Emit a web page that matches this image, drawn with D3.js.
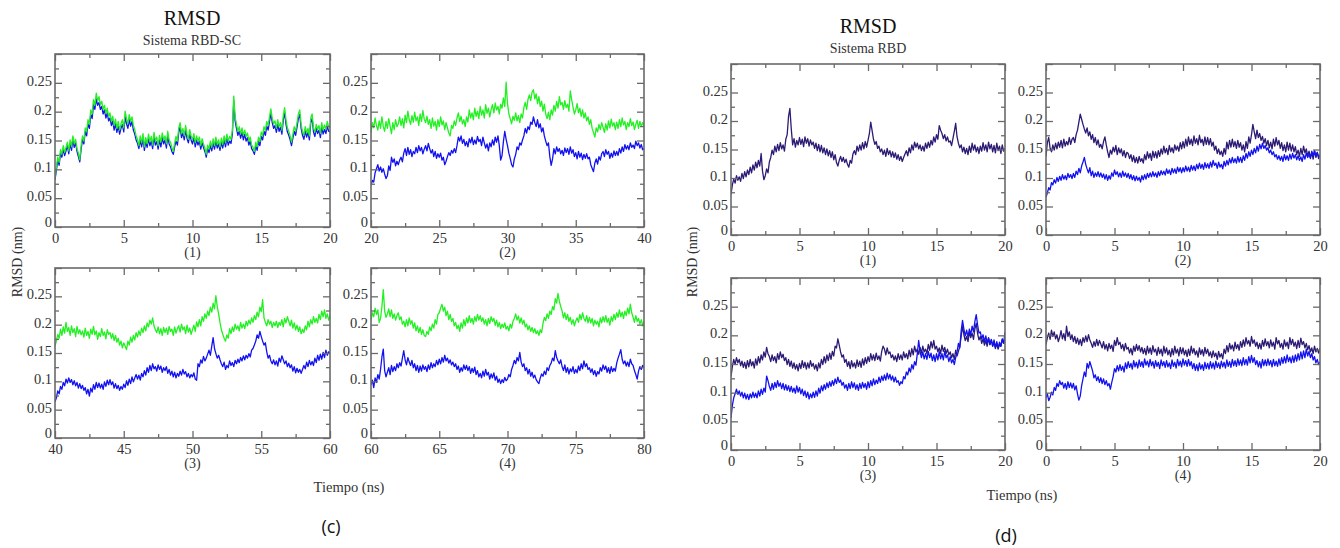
<!DOCTYPE html>
<html>
<head>
<meta charset="utf-8">
<script src="https://cdn.jsdelivr.net/npm/d3@7"></script>
<style>
  body { margin: 0; background: #fff; }
  text { font-family: 'Liberation Serif', 'Times New Roman', serif; fill: #333; }
</style>
</head>
<body>
<svg width="1340" height="548"></svg>
<script>
const svg = d3.select('svg')

// sampling step of every series (ns)
const timeStep = 0.1
const xMajor = [0, 5, 10, 15, 20]
const xMinor = [2.5, 7.5, 12.5, 17.5]
const yMajor = [0, 0.05, 0.1, 0.15, 0.2, 0.25, 0.3]
const yMinor = [0.025, 0.075, 0.125, 0.175, 0.225, 0.275]
const yLabels = ['0', '0.05', '0.1', '0.15', '0.2', '0.25', '']
const panelNames = ['(1)', '(2)', '(3)', '(4)']
const startsSC = [0, 20, 40, 60]
const startsRBD = [0, 0, 0, 0]

// RMSD (nm), Sistema RBD-SC
const scGreen1 = [
  .085,.104,.121,.112,.134,.126,.141,.129,.138,.147,.132,.151,.139,.158,.144,.152,.136,.128,.117,.141,
  .158,.149,.172,.165,.186,.178,.203,.196,.221,.211,.232,.219,.226,.212,.218,.204,.211,.197,.206,.191,
  .198,.183,.192,.176,.187,.171,.183,.168,.179,.186,.172,.201,.188,.179,.195,.183,.191,.176,.169,.158,
  .152,.141,.158,.146,.162,.139,.155,.144,.161,.148,.157,.142,.164,.149,.156,.141,.159,.147,.163,.151,
  .158,.144,.166,.151,.147,.138,.131,.146,.157,.149,.172,.181,.162,.171,.158,.176,.161,.152,.169,.158,
  .151,.162,.146,.158,.149,.156,.141,.153,.144,.137,.126,.142,.135,.149,.138,.153,.141,.156,.143,.151,
  .139,.154,.143,.158,.146,.161,.149,.157,.152,.168,.227,.191,.178,.166,.174,.161,.172,.159,.168,.157,
  .163,.149,.156,.142,.138,.131,.147,.139,.156,.148,.165,.158,.174,.167,.183,.176,.191,.205,.188,.179,
  .184,.171,.186,.174,.181,.168,.193,.207,.186,.172,.166,.158,.147,.161,.174,.166,.181,.196,.203,.178,
  .166,.159,.174,.163,.171,.158,.189,.196,.172,.164,.178,.169,.176,.162,.181,.168,.177,.169,.183,.174,
  .172]
const scBlue1 = [
  .082,.098,.116,.107,.128,.121,.135,.124,.132,.141,.127,.145,.133,.151,.138,.146,.131,.122,.113,.135,
  .152,.144,.166,.158,.179,.171,.195,.188,.212,.204,.222,.211,.216,.204,.209,.196,.203,.189,.198,.184,
  .189,.176,.184,.168,.179,.164,.175,.161,.171,.178,.165,.192,.179,.171,.186,.175,.183,.168,.161,.151,
  .145,.136,.151,.139,.154,.133,.148,.138,.153,.141,.149,.136,.156,.142,.148,.135,.151,.139,.155,.144,
  .151,.137,.158,.144,.139,.131,.126,.139,.149,.142,.164,.173,.155,.163,.151,.168,.154,.146,.161,.151,
  .144,.155,.139,.151,.142,.149,.135,.146,.138,.131,.121,.136,.129,.142,.132,.146,.135,.149,.137,.144,
  .133,.147,.137,.151,.139,.154,.142,.149,.145,.161,.219,.184,.171,.159,.166,.154,.164,.151,.161,.149,
  .155,.142,.149,.136,.132,.126,.141,.133,.149,.141,.157,.151,.166,.159,.175,.168,.183,.197,.181,.171,
  .176,.164,.178,.166,.173,.161,.185,.199,.178,.165,.159,.151,.141,.154,.166,.159,.173,.188,.195,.171,
  .159,.152,.167,.156,.164,.151,.181,.188,.165,.157,.171,.162,.168,.155,.173,.161,.169,.162,.175,.166,
  .165]
const scGreen2 = [
  .163,.181,.172,.189,.176,.168,.184,.171,.191,.174,.166,.183,.171,.188,.175,.162,.181,.169,.186,.174,
  .179,.191,.176,.188,.172,.194,.181,.201,.186,.178,.193,.182,.199,.184,.191,.176,.196,.183,.202,.187,
  .181,.192,.178,.186,.171,.189,.175,.183,.168,.186,.174,.191,.177,.184,.169,.181,.172,.163,.158,.176,
  .171,.184,.176,.189,.198,.183,.192,.179,.186,.174,.191,.182,.203,.189,.198,.186,.206,.192,.201,.188,
  .209,.194,.203,.189,.212,.197,.206,.191,.204,.212,.198,.215,.203,.209,.196,.213,.206,.224,.209,.251,
  .214,.196,.188,.179,.192,.185,.198,.184,.193,.181,.196,.189,.207,.216,.204,.221,.229,.219,.234,.238,
  .222,.231,.214,.226,.209,.218,.201,.213,.196,.188,.199,.186,.203,.194,.211,.201,.218,.206,.226,.212,
  .216,.204,.219,.207,.213,.201,.236,.221,.208,.196,.203,.214,.198,.206,.192,.203,.189,.198,.184,.191,
  .178,.186,.171,.164,.156,.172,.165,.178,.169,.181,.173,.164,.179,.168,.184,.172,.187,.175,.181,.169,
  .182,.171,.186,.174,.189,.177,.183,.169,.181,.174,.188,.176,.182,.169,.178,.185,.171,.183,.174,.181,
  .176]
const scBlue2 = [
  .072,.081,.078,.094,.101,.108,.097,.104,.095,.101,.092,.084,.089,.106,.098,.121,.112,.118,.106,.114,
  .108,.116,.121,.113,.128,.136,.124,.138,.126,.134,.122,.131,.127,.138,.129,.141,.132,.138,.127,.135,
  .141,.132,.145,.136,.128,.134,.122,.131,.119,.127,.121,.128,.116,.121,.108,.114,.122,.129,.124,.133,
  .128,.136,.129,.141,.156,.149,.158,.145,.152,.141,.148,.139,.153,.146,.156,.143,.151,.144,.157,.148,
  .152,.141,.156,.146,.137,.144,.132,.146,.139,.151,.142,.156,.147,.158,.141,.116,.124,.148,.166,.152,
  .141,.128,.119,.108,.104,.118,.126,.139,.134,.146,.142,.151,.158,.171,.163,.174,.169,.182,.178,.191,
  .181,.174,.186,.172,.179,.165,.172,.158,.149,.141,.146,.122,.107,.118,.136,.127,.139,.131,.136,.127,
  .133,.124,.137,.129,.136,.126,.139,.128,.134,.122,.129,.118,.131,.121,.128,.117,.126,.119,.127,.118,
  .121,.108,.102,.096,.111,.118,.109,.122,.116,.127,.131,.122,.134,.126,.131,.119,.128,.121,.132,.124,
  .131,.124,.136,.128,.139,.131,.143,.135,.141,.134,.146,.138,.142,.136,.149,.141,.146,.137,.143,.134,
  .136]
const scGreen3 = [
  .162,.171,.183,.176,.192,.181,.196,.185,.204,.188,.195,.181,.198,.186,.193,.179,.197,.184,.191,.182,
  .189,.178,.194,.181,.188,.176,.192,.183,.197,.182,.189,.174,.186,.179,.193,.181,.187,.175,.191,.183,
  .186,.176,.184,.172,.181,.169,.176,.164,.171,.159,.168,.162,.156,.171,.164,.178,.169,.181,.173,.186,
  .178,.189,.181,.194,.186,.198,.189,.203,.196,.208,.201,.212,.198,.191,.186,.196,.184,.193,.181,.195,
  .186,.194,.183,.197,.188,.192,.181,.196,.185,.193,.198,.187,.201,.191,.196,.184,.199,.187,.194,.183,
  .191,.199,.188,.205,.196,.209,.198,.214,.206,.219,.211,.224,.216,.231,.222,.238,.228,.251,.232,.219,
  .204,.191,.183,.176,.171,.182,.176,.193,.184,.196,.188,.201,.192,.198,.189,.204,.194,.201,.193,.206,
  .198,.208,.201,.212,.204,.216,.209,.222,.214,.231,.223,.244,.212,.204,.198,.209,.201,.206,.195,.204,
  .198,.206,.195,.204,.199,.209,.196,.211,.203,.214,.206,.198,.208,.194,.203,.191,.199,.188,.196,.184,
  .192,.186,.198,.191,.206,.196,.209,.201,.214,.204,.211,.203,.218,.209,.224,.214,.226,.211,.219,.208,
  .216]
const scBlue3 = [
  .064,.071,.083,.078,.091,.086,.098,.092,.104,.097,.106,.098,.103,.094,.101,.092,.098,.088,.096,.087,
  .093,.084,.089,.078,.086,.074,.088,.081,.094,.086,.098,.089,.097,.088,.095,.086,.099,.091,.102,.094,
  .103,.094,.099,.088,.096,.087,.093,.084,.091,.086,.095,.089,.101,.093,.104,.096,.108,.099,.106,.112,
  .104,.111,.102,.114,.108,.119,.111,.124,.116,.128,.119,.131,.122,.126,.118,.129,.121,.127,.116,.124,
  .119,.126,.114,.121,.111,.118,.108,.116,.106,.114,.109,.118,.111,.121,.113,.117,.108,.114,.106,.112,
  .108,.115,.104,.102,.131,.126,.138,.132,.144,.136,.141,.148,.155,.146,.162,.177,.158,.149,.141,.146,
  .138,.131,.126,.134,.121,.128,.124,.136,.128,.133,.126,.137,.131,.139,.133,.142,.136,.145,.138,.146,
  .141,.149,.143,.155,.158,.164,.171,.182,.176,.188,.179,.171,.164,.168,.152,.141,.146,.136,.131,.138,
  .129,.136,.127,.141,.134,.145,.138,.131,.136,.126,.132,.124,.129,.118,.126,.115,.123,.116,.121,.114,
  .121,.128,.122,.134,.126,.137,.129,.135,.128,.141,.133,.146,.137,.148,.139,.151,.142,.155,.146,.152,
  .151]
const scGreen4 = [
  .208,.221,.214,.229,.218,.226,.204,.211,.232,.262,.224,.213,.219,.228,.214,.226,.211,.219,.208,.216,
  .221,.209,.214,.201,.206,.196,.209,.198,.212,.201,.207,.194,.203,.189,.198,.186,.195,.183,.191,.181,
  .179,.188,.183,.196,.189,.201,.194,.209,.201,.218,.221,.229,.236,.224,.231,.216,.224,.209,.218,.206,
  .211,.198,.204,.193,.199,.188,.203,.194,.209,.198,.212,.203,.216,.204,.211,.201,.214,.206,.218,.208,
  .216,.206,.212,.201,.209,.198,.211,.202,.214,.206,.211,.199,.208,.196,.204,.193,.201,.195,.203,.192,
  .197,.189,.201,.194,.206,.211,.219,.208,.215,.203,.212,.201,.208,.196,.201,.191,.198,.188,.195,.186,
  .193,.184,.189,.181,.191,.186,.202,.213,.207,.219,.211,.224,.218,.232,.226,.246,.238,.255,.241,.232,
  .224,.212,.221,.209,.218,.206,.213,.201,.209,.198,.206,.212,.204,.218,.209,.221,.211,.206,.216,.203,
  .213,.203,.211,.198,.208,.201,.206,.196,.212,.203,.214,.205,.216,.204,.211,.199,.214,.206,.218,.209,
  .221,.213,.226,.214,.222,.211,.224,.216,.229,.219,.236,.221,.213,.204,.216,.206,.211,.201,.209,.198,
  .206]
const scBlue4 = [
  .094,.102,.089,.106,.098,.112,.104,.121,.143,.157,.119,.108,.116,.124,.112,.128,.117,.126,.119,.131,
  .124,.133,.127,.141,.154,.138,.129,.142,.134,.128,.137,.124,.131,.119,.128,.116,.127,.118,.129,.121,
  .126,.117,.129,.121,.133,.124,.131,.126,.137,.129,.139,.131,.142,.134,.146,.136,.141,.132,.138,.129,
  .134,.126,.131,.121,.127,.116,.124,.118,.129,.121,.128,.119,.126,.114,.123,.116,.125,.112,.119,.108,
  .114,.106,.118,.109,.121,.111,.116,.104,.113,.106,.115,.102,.109,.098,.104,.096,.103,.098,.107,.101,
  .104,.112,.108,.121,.128,.137,.131,.142,.136,.151,.134,.126,.131,.119,.124,.113,.121,.109,.116,.106,
  .111,.103,.099,.096,.106,.113,.109,.118,.112,.124,.119,.128,.132,.141,.136,.154,.142,.136,.131,.138,
  .126,.119,.129,.116,.124,.113,.122,.117,.126,.114,.121,.115,.127,.119,.131,.122,.136,.126,.131,.121,
  .124,.116,.122,.112,.119,.109,.117,.113,.124,.118,.129,.121,.127,.116,.124,.114,.126,.117,.123,.118,
  .132,.141,.148,.156,.139,.131,.136,.127,.134,.126,.139,.131,.128,.119,.112,.104,.118,.126,.121,.128,
  .124]

// RMSD (nm), Sistema RBD
const rbdIndigo1 = [
  .071,.088,.098,.091,.104,.096,.102,.094,.108,.099,.111,.102,.114,.106,.119,.109,.123,.114,.128,.118,
  .131,.121,.143,.112,.097,.104,.116,.109,.128,.136,.149,.141,.156,.146,.159,.148,.162,.151,.158,.147,
  .168,.176,.208,.222,.186,.158,.169,.154,.166,.158,.171,.159,.168,.155,.172,.161,.169,.156,.167,.158,
  .163,.152,.161,.148,.159,.146,.157,.144,.153,.141,.151,.139,.148,.136,.146,.132,.141,.127,.121,.131,
  .138,.129,.136,.127,.133,.124,.119,.131,.126,.142,.148,.141,.156,.147,.158,.149,.162,.151,.164,.154,
  .166,.178,.198,.183,.168,.159,.164,.152,.156,.146,.151,.141,.149,.138,.152,.141,.148,.137,.146,.136,
  .144,.133,.141,.131,.138,.129,.136,.142,.148,.139,.153,.144,.158,.149,.163,.154,.161,.151,.158,.148,
  .156,.147,.161,.152,.163,.154,.166,.158,.172,.163,.176,.168,.192,.184,.178,.169,.176,.165,.172,.163,
  .165,.157,.169,.182,.196,.172,.161,.153,.158,.146,.154,.143,.152,.141,.156,.145,.161,.149,.158,.146,
  .154,.143,.156,.147,.162,.149,.158,.146,.163,.151,.159,.146,.157,.144,.161,.148,.156,.143,.158,.147,
  .152]
const rbdIndigo2 = [
  .138,.162,.171,.152,.146,.158,.149,.161,.151,.163,.154,.166,.153,.168,.156,.164,.158,.171,.159,.168,
  .171,.162,.176,.184,.198,.212,.203,.194,.186,.179,.188,.174,.181,.168,.176,.162,.171,.158,.167,.154,
  .159,.151,.164,.172,.158,.146,.136,.149,.142,.154,.146,.157,.141,.153,.144,.151,.139,.148,.136,.145,
  .143,.134,.141,.129,.139,.127,.136,.126,.138,.129,.134,.126,.141,.132,.146,.135,.143,.131,.147,.136,
  .146,.135,.148,.138,.151,.142,.156,.144,.152,.141,.157,.146,.153,.144,.158,.149,.156,.147,.162,.151,
  .164,.153,.168,.156,.172,.159,.168,.157,.174,.161,.169,.158,.175,.162,.168,.157,.172,.159,.171,.158,
  .169,.156,.163,.149,.156,.143,.151,.141,.147,.138,.152,.142,.163,.151,.166,.154,.168,.155,.164,.152,
  .166,.154,.162,.149,.158,.146,.164,.152,.172,.161,.176,.194,.181,.169,.184,.171,.178,.166,.173,.161,
  .169,.157,.166,.153,.163,.151,.168,.156,.171,.158,.166,.152,.162,.148,.158,.146,.163,.149,.161,.147,
  .158,.146,.155,.141,.149,.138,.152,.141,.156,.144,.151,.139,.147,.136,.144,.133,.148,.136,.145,.134,
  .141]
const rbdBlue2 = [
  .066,.074,.083,.079,.092,.088,.097,.091,.101,.094,.103,.096,.106,.098,.104,.097,.108,.101,.106,.099,
  .108,.101,.112,.106,.117,.109,.121,.128,.136,.124,.116,.109,.118,.104,.112,.101,.109,.103,.111,.102,
  .109,.101,.107,.098,.106,.096,.104,.098,.109,.103,.114,.106,.111,.102,.109,.101,.112,.103,.109,.101,
  .108,.099,.106,.097,.104,.095,.103,.096,.101,.093,.104,.097,.106,.098,.108,.101,.109,.102,.111,.103,
  .109,.101,.111,.104,.113,.106,.112,.105,.116,.108,.114,.106,.117,.109,.116,.108,.119,.111,.118,.109,
  .118,.111,.121,.112,.119,.111,.122,.114,.121,.113,.124,.116,.126,.117,.124,.115,.127,.118,.125,.117,
  .128,.119,.131,.122,.126,.117,.128,.119,.124,.116,.129,.121,.131,.123,.134,.126,.136,.127,.134,.126,
  .138,.128,.136,.127,.139,.131,.143,.135,.146,.138,.149,.141,.152,.144,.156,.147,.159,.151,.161,.152,
  .157,.149,.153,.144,.149,.141,.146,.137,.141,.133,.139,.131,.138,.129,.141,.132,.139,.131,.142,.133,
  .143,.135,.141,.132,.139,.131,.137,.129,.141,.133,.144,.136,.142,.134,.147,.139,.148,.138,.145,.137,
  .139]
const rbdIndigo3 = [
  .128,.146,.158,.149,.161,.152,.158,.147,.155,.144,.153,.142,.156,.145,.158,.147,.154,.143,.159,.148,
  .163,.152,.166,.157,.171,.162,.179,.168,.163,.154,.166,.156,.163,.152,.168,.158,.171,.161,.167,.156,
  .161,.149,.158,.146,.155,.143,.152,.141,.149,.138,.151,.142,.156,.144,.153,.141,.152,.143,.156,.146,
  .151,.141,.149,.138,.152,.143,.158,.149,.163,.152,.166,.156,.169,.158,.172,.164,.181,.178,.194,.183,
  .171,.162,.166,.153,.158,.146,.154,.142,.156,.145,.152,.143,.157,.146,.155,.144,.159,.148,.161,.151,
  .163,.154,.168,.157,.166,.156,.169,.158,.164,.155,.172,.181,.176,.166,.178,.168,.171,.161,.166,.157,
  .164,.154,.168,.158,.166,.157,.171,.161,.168,.159,.174,.163,.177,.166,.181,.171,.176,.167,.179,.169,
  .181,.171,.176,.168,.184,.174,.189,.178,.191,.176,.181,.171,.178,.168,.183,.172,.179,.168,.176,.166,
  .171,.161,.168,.158,.174,.164,.172,.181,.198,.216,.201,.191,.198,.189,.206,.196,.204,.193,.211,.221,
  .203,.192,.198,.186,.194,.183,.191,.181,.195,.184,.192,.181,.188,.177,.186,.176,.184,.181,.193,.186,
  .194]
const rbdBlue3 = [
  .056,.078,.091,.098,.106,.097,.103,.094,.101,.091,.099,.089,.097,.088,.098,.091,.101,.092,.099,.091,
  .103,.094,.106,.097,.108,.101,.129,.121,.111,.104,.116,.106,.118,.109,.121,.111,.117,.107,.116,.105,
  .114,.104,.112,.102,.111,.101,.108,.099,.112,.101,.109,.098,.106,.095,.103,.092,.101,.089,.098,.091,
  .101,.092,.103,.094,.108,.099,.112,.103,.114,.106,.117,.109,.119,.111,.121,.113,.124,.116,.127,.118,
  .122,.113,.118,.108,.114,.104,.116,.107,.119,.109,.117,.106,.114,.104,.116,.107,.118,.109,.116,.106,
  .119,.109,.121,.112,.124,.114,.122,.116,.127,.118,.129,.121,.131,.122,.134,.124,.132,.122,.129,.119,
  .127,.118,.121,.113,.119,.116,.128,.124,.136,.131,.143,.136,.149,.141,.154,.148,.168,.191,.172,.161,
  .171,.159,.168,.158,.172,.161,.169,.156,.166,.154,.168,.157,.171,.159,.168,.157,.172,.161,.166,.154,
  .163,.152,.158,.149,.161,.171,.186,.178,.208,.226,.211,.199,.209,.197,.211,.201,.216,.206,.224,.236,
  .218,.204,.206,.194,.201,.189,.199,.186,.196,.184,.193,.181,.192,.179,.189,.178,.188,.181,.194,.186,
  .206]
const rbdIndigo4 = [
  .184,.196,.204,.193,.209,.198,.206,.194,.201,.189,.197,.208,.194,.203,.191,.216,.198,.206,.193,.201,
  .189,.198,.186,.195,.184,.193,.182,.196,.188,.199,.189,.201,.192,.186,.179,.189,.181,.193,.182,.191,
  .185,.178,.189,.176,.184,.173,.186,.177,.183,.172,.191,.182,.196,.184,.188,.177,.184,.173,.186,.176,
  .179,.169,.177,.166,.181,.172,.184,.174,.182,.171,.179,.168,.177,.166,.181,.169,.178,.167,.182,.171,
  .176,.165,.179,.168,.176,.164,.181,.169,.178,.166,.174,.163,.177,.166,.181,.169,.176,.164,.179,.168,
  .178,.166,.174,.163,.176,.165,.181,.169,.177,.166,.173,.162,.178,.167,.175,.164,.179,.168,.176,.164,
  .171,.161,.173,.163,.169,.158,.172,.162,.168,.159,.176,.168,.182,.171,.186,.176,.183,.173,.188,.177,
  .184,.174,.189,.179,.192,.181,.196,.185,.191,.181,.198,.186,.192,.181,.188,.177,.186,.176,.191,.181,
  .194,.182,.189,.178,.192,.181,.188,.176,.196,.185,.191,.179,.186,.176,.192,.181,.188,.177,.196,.184,
  .193,.181,.188,.177,.191,.179,.195,.184,.189,.178,.186,.175,.182,.171,.178,.168,.181,.171,.177,.169,
  .178]
const rbdBlue4 = [
  .091,.098,.086,.092,.101,.096,.109,.104,.116,.111,.121,.114,.118,.108,.116,.106,.119,.109,.117,.108,
  .116,.105,.112,.098,.087,.094,.112,.124,.136,.128,.151,.143,.154,.146,.138,.126,.131,.121,.128,.118,
  .126,.116,.124,.114,.121,.112,.116,.106,.118,.128,.142,.136,.147,.138,.149,.139,.146,.136,.152,.142,
  .154,.144,.151,.141,.156,.145,.153,.143,.157,.146,.154,.144,.159,.148,.155,.145,.158,.147,.154,.143,
  .156,.146,.153,.142,.157,.147,.154,.144,.156,.145,.152,.142,.157,.146,.153,.143,.158,.147,.155,.145,
  .159,.148,.156,.146,.158,.147,.154,.142,.151,.139,.149,.138,.152,.141,.149,.139,.153,.142,.151,.141,
  .154,.143,.152,.141,.155,.144,.152,.142,.155,.145,.153,.143,.157,.146,.154,.144,.158,.147,.156,.146,
  .159,.148,.157,.147,.161,.149,.158,.148,.163,.152,.165,.153,.161,.149,.156,.145,.154,.143,.158,.147,
  .157,.147,.159,.148,.156,.145,.158,.147,.155,.146,.159,.148,.161,.151,.163,.152,.166,.154,.162,.152,
  .164,.153,.166,.155,.168,.157,.171,.159,.173,.161,.176,.164,.172,.161,.168,.157,.163,.152,.158,.149,
  .154]

const GREEN = '#22f022', BLUE = '#1212f0', INDIGO = '#2c1a74'
const FRAME = '#6a6a6a'

const figures = [
  {
    title: 'RMSD', subtitle: 'Sistema RBD-SC', tag: '(c)', id: 'c',
    titleX: 192, titleY: 25, subY: 45,
    ylabX: 17, ylabY: 262, xlabX: 349, xlabY: 492, tagX: 331, tagY: 533,
    starts: startsSC,
    boxes: [[55, 330, 54, 227], [371, 644, 54, 227], [55, 330, 268, 438], [371, 644, 268, 438]],
    series: [
      [{v: scBlue1, c: BLUE}, {v: scGreen1, c: GREEN}],
      [{v: scBlue2, c: BLUE}, {v: scGreen2, c: GREEN}],
      [{v: scBlue3, c: BLUE}, {v: scGreen3, c: GREEN}],
      [{v: scBlue4, c: BLUE}, {v: scGreen4, c: GREEN}]
    ]
  },
  {
    title: 'RMSD', subtitle: 'Sistema RBD', tag: '(d)', id: 'd',
    titleX: 868, titleY: 33, subY: 53,
    ylabX: 692, ylabY: 262, xlabX: 1022, xlabY: 500, tagX: 1006, tagY: 542,
    starts: startsRBD,
    boxes: [[731, 1005, 64, 235], [1046, 1320, 64, 235], [731, 1005, 278, 450], [1046, 1320, 278, 450]],
    series: [
      [{v: rbdIndigo1, c: INDIGO}],
      [{v: rbdIndigo2, c: INDIGO}, {v: rbdBlue2, c: BLUE}],
      [{v: rbdIndigo3, c: INDIGO}, {v: rbdBlue3, c: BLUE}],
      [{v: rbdIndigo4, c: INDIGO}, {v: rbdBlue4, c: BLUE}]
    ]
  }
]

const styleAxis = g => {
  g.attr('font-family', null).attr('font-size', null)
  g.select('.domain').remove()
  g.selectAll('line').attr('stroke', FRAME).attr('stroke-width', 1.3)
  g.selectAll('text').attr('fill', '#333').style('font-size', '14.5px')
}

const drawPanel = (box, start, series, name, clipId) => {
  const [x0, x1, y0, y1] = box
  const x = d3.scaleLinear().domain([start, start + 20]).range([x0, x1])
  const y = d3.scaleLinear().domain([0, 0.3]).range([y1, y0])
  const g = svg.append('g')

  g.append('clipPath').attr('id', clipId)
    .append('rect')
    .attr('x', x0).attr('y', y0)
    .attr('width', x1 - x0).attr('height', y1 - y0)

  const line = d3.line()
    .x((d, i) => x(start + i * timeStep))
    .y(d => y(d))

  const lines = g.append('g').attr('clip-path', `url(#${clipId})`)
  series.forEach(s => {
    lines.append('path')
      .datum(s.v)
      .attr('d', line)
      .attr('fill', 'none')
      .attr('stroke', s.c)
      .attr('stroke-width', 1.3)
      .attr('stroke-linejoin', 'round')
  })

  const major = xMajor.map(d => d + start)
  const minor = xMinor.map(d => d + start)

  g.append('g').attr('transform', `translate(0,${y1})`)
    .call(d3.axisBottom(x).tickValues(major).tickSize(-7).tickPadding(6).tickFormat(d => d))
    .call(styleAxis)
  g.append('g').attr('transform', `translate(0,${y1})`)
    .call(d3.axisBottom(x).tickValues(minor).tickSize(-4).tickFormat(''))
    .call(styleAxis)
  g.append('g').attr('transform', `translate(0,${y0})`)
    .call(d3.axisTop(x).tickValues(major).tickSize(-7).tickFormat(''))
    .call(styleAxis)
  g.append('g').attr('transform', `translate(0,${y0})`)
    .call(d3.axisTop(x).tickValues(minor).tickSize(-4).tickFormat(''))
    .call(styleAxis)

  g.append('g').attr('transform', `translate(${x0},0)`)
    .call(d3.axisLeft(y).tickValues(yMajor).tickSize(-7).tickPadding(3).tickFormat((d, i) => yLabels[i]))
    .call(styleAxis)
    .call(a => a.selectAll('text').attr('dy', d => d === 0 ? '-0.05em' : '0.18em'))
  g.append('g').attr('transform', `translate(${x0},0)`)
    .call(d3.axisLeft(y).tickValues(yMinor).tickSize(-4).tickFormat(''))
    .call(styleAxis)
  g.append('g').attr('transform', `translate(${x1},0)`)
    .call(d3.axisRight(y).tickValues(yMajor).tickSize(-7).tickFormat(''))
    .call(styleAxis)
  g.append('g').attr('transform', `translate(${x1},0)`)
    .call(d3.axisRight(y).tickValues(yMinor).tickSize(-4).tickFormat(''))
    .call(styleAxis)

  g.append('rect')
    .attr('x', x0).attr('y', y0)
    .attr('width', x1 - x0).attr('height', y1 - y0)
    .attr('fill', 'none')
    .attr('stroke', FRAME)
    .attr('stroke-width', 1.6)

  g.append('text')
    .attr('x', (x0 + x1) / 2).attr('y', y1 + 30)
    .attr('text-anchor', 'middle')
    .style('font-size', '14px')
    .text(name)
}

figures.forEach(f => {
  f.boxes.forEach((b, i) => drawPanel(b, f.starts[i], f.series[i], panelNames[i], `clip-${f.id}${i}`))

  svg.append('text')
    .attr('x', f.titleX).attr('y', f.titleY)
    .attr('text-anchor', 'middle')
    .style('font-size', '20px').style('fill', '#111')
    .text(f.title)
  svg.append('text')
    .attr('x', f.titleX).attr('y', f.subY)
    .attr('text-anchor', 'middle')
    .style('font-size', '14px')
    .text(f.subtitle)
  svg.append('text')
    .attr('transform', `translate(${f.ylabX},${f.ylabY}) rotate(-90)`)
    .attr('text-anchor', 'middle')
    .attr('dy', '0.35em')
    .style('font-size', '14px')
    .text('RMSD (nm)')
  svg.append('text')
    .attr('x', f.xlabX).attr('y', f.xlabY)
    .attr('text-anchor', 'middle')
    .style('font-size', '14.5px')
    .text('Tiempo (ns)')
  svg.append('text')
    .attr('x', f.tagX).attr('y', f.tagY)
    .attr('text-anchor', 'middle')
    .style('font-family', "'Open Sans', 'Noto Sans', sans-serif")
    .style('font-size', '18px').style('fill', '#111')
    .text(f.tag)
})
</script>
</body>
</html>
